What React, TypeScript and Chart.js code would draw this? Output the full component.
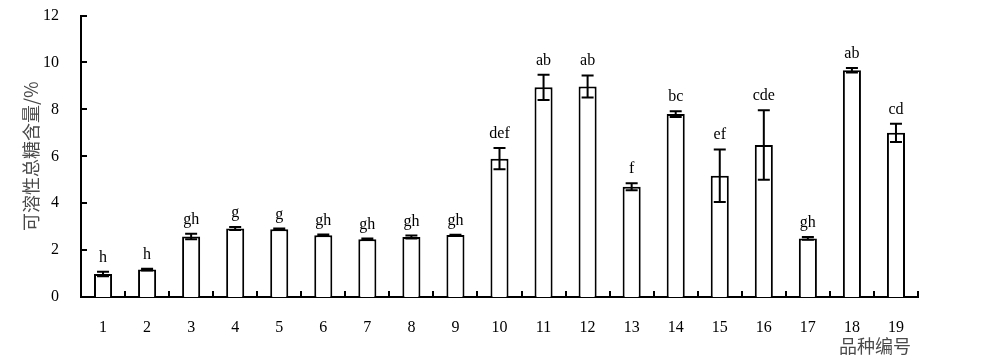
import React, { useEffect, useRef } from "react";
import { Chart, registerables } from "chart.js";

Chart.register(...registerables);

const categories = ["1","2","3","4","5","6","7","8","9","10","11","12","13","14","15","16","17","18","19"];
const means = [0.98, 1.17, 2.58, 2.92, 2.89, 2.63, 2.46, 2.56, 2.64, 5.9, 8.94, 8.98, 4.7, 7.8, 5.17, 6.48, 2.5, 9.67, 7.0];
const errors = [0.1, 0.04, 0.12, 0.06, 0.03, 0.03, 0.03, 0.06, 0.01, 0.45, 0.54, 0.47, 0.15, 0.12, 1.12, 1.48, 0.06, 0.1, 0.39];
const letters = ["h","h","gh","g","g","gh","gh","gh","gh","def","ab","ab","f","bc","ef","cde","gh","ab","cd"];
const yTitle = "可溶性总糖含量/%";
const xTitle = "品种编号";

const SERIF = "'Liberation Serif', 'Times New Roman', serif";
const CJK = "'Noto Sans CJK SC', sans-serif";
const SHIFT = 16;

const decorPlugin = {
  id: "decor",
  afterDatasetsDraw(chart: any) {
    const ctx = chart.ctx;
    const y = chart.scales.y;
    const area = chart.chartArea;
    const meta = chart.getDatasetMeta(0);
    ctx.save();
    ctx.strokeStyle = "#000";
    ctx.lineWidth = 2;
    meta.data.forEach((bar: any, i: number) => {
      const top = y.getPixelForValue(means[i] + errors[i]);
      const bot = y.getPixelForValue(means[i] - errors[i]);
      const cx = bar.x;
      ctx.beginPath();
      ctx.moveTo(cx, top);
      ctx.lineTo(cx, bot);
      ctx.moveTo(cx - 6, top);
      ctx.lineTo(cx + 6, top);
      ctx.moveTo(cx - 6, bot);
      ctx.lineTo(cx + 6, bot);
      ctx.stroke();
      ctx.fillStyle = "#000";
      ctx.font = "16px " + SERIF;
      ctx.textAlign = "center";
      ctx.textBaseline = "alphabetic";
      ctx.fillText(letters[i], cx, top - 10);
    });
    ctx.beginPath();
    y.ticks.forEach((t: any) => {
      const py = Math.round(y.getPixelForValue(t.value));
      if (t.value === 0) return;
      ctx.moveTo(area.left, py);
      ctx.lineTo(area.left + 6, py);
    });
    const n = categories.length;
    const w = (area.right - area.left) / n;
    for (let k = 1; k <= n; k++) {
      const px = Math.round(area.left + w * k);
      ctx.moveTo(px, area.bottom);
      ctx.lineTo(px, area.bottom - 6);
    }
    ctx.stroke();
    ctx.fillStyle = "#4a4a4a";
    ctx.font = "18px " + CJK;
    ctx.textAlign = "center";
    ctx.textBaseline = "middle";
    ctx.save();
    ctx.translate(31, (area.top + area.bottom) / 2);
    ctx.rotate(-Math.PI / 2);
    ctx.fillText(yTitle, 0, 0);
    ctx.restore();
    ctx.fillText(xTitle, 875, 346 + SHIFT);
    ctx.restore();
  },
};

export default function App() {
  const ref = useRef<HTMLCanvasElement>(null);
  useEffect(() => {
    if (!ref.current) return;
    const chart = new Chart(ref.current, {
      type: "bar",
      data: {
        labels: categories,
        datasets: [
          {
            data: means,
            backgroundColor: "#ffffff",
            borderColor: "#000000",
            borderWidth: 2,
            barPercentage: 0.41,
            categoryPercentage: 1,
          },
        ],
      },
      options: {
        responsive: false,
        animation: false,
        devicePixelRatio: 1,
        layout: { padding: { top: 0, right: 82, bottom: 0, left: 0 } },
        plugins: { legend: { display: false }, tooltip: { enabled: false } },
        scales: {
          x: {
            grid: { display: false, drawTicks: false },
            border: { display: true, color: "#000", width: 2 },
            ticks: { color: "#000", font: { family: SERIF, size: 16 }, padding: 21, maxRotation: 0 },
            afterFit: (s: any) => { s.height = 63; },
          },
          y: {
            min: 0,
            max: 12,
            grid: { display: false, drawTicks: false },
            border: { display: true, color: "#000", width: 2 },
            ticks: { stepSize: 2, color: "#000", font: { family: SERIF, size: 16 }, padding: 22 },
            afterFit: (s: any) => { s.width = 81; },
          },
        },
      },
      plugins: [decorPlugin],
    });
    return () => chart.destroy();
  }, []);
  return (
    <div style={{ position: "absolute", left: 0, top: 0, width: 1000, height: 360, overflow: "hidden", background: "#fff" }}>
      <canvas ref={ref} width={1000} height={360 + SHIFT} style={{ position: "absolute", left: 0, top: -SHIFT }} />
    </div>
  );
}
